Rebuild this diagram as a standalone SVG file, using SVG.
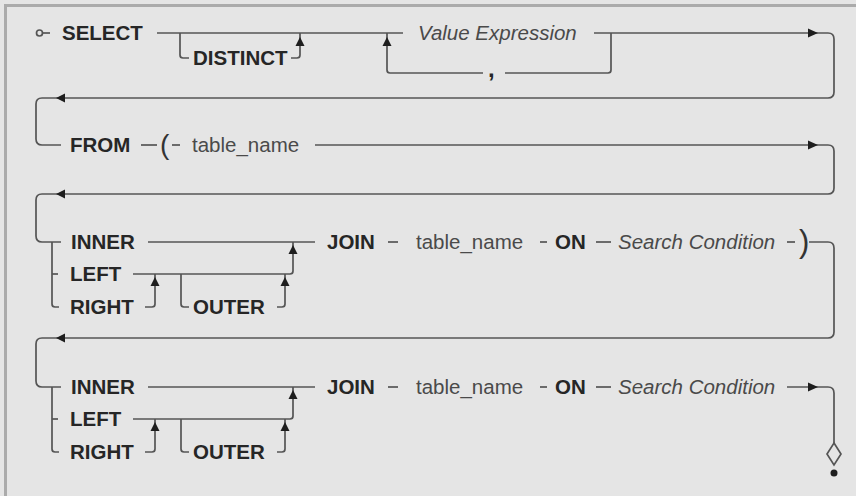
<svg xmlns="http://www.w3.org/2000/svg" width="856" height="496" viewBox="0 0 856 496">
  <style>
    .bg { fill: #e5e5e5; }
    .frame { fill: none; stroke: #ababab; stroke-width: 3; }
    .ln { fill: none; stroke: #555555; stroke-width: 1.7; stroke-linecap: butt; }
    .ah { fill: #1e1e1e; }
    .kw { font-family: "Liberation Sans", Arial, sans-serif; font-size: 20.5px; font-weight: bold; fill: #262626; }
    .id { font-family: "Liberation Sans", Arial, sans-serif; font-size: 20.5px; fill: #4a4a4a; }
    .it { font-family: "Liberation Sans", Arial, sans-serif; font-size: 20.5px; font-style: italic; fill: #4a4a4a; }
    .par { font-family: "Liberation Sans", Arial, sans-serif; font-size: 28px; fill: #333333; }
  </style>
  <defs>
    <path id="aup" d="M0 0 L4.5 9 L-4.5 9 Z"/>
    <path id="ar" d="M0 0 L-10 -4.5 L-10 4.5 Z"/>
    <path id="al" d="M0 0 L9 -4.5 L9 4.5 Z"/>
    <!-- join-type alternatives: INNER / LEFT / RIGHT [OUTER] -->
    <g id="jointype">
      <path class="ln" d="M52 242 V304 Q52 307 55 307 H59"/>
      <path class="ln" d="M52 274 H58"/>
      <path class="ln" d="M148 242 H315"/>
      <path class="ln" d="M133 274 H290 Q293 274 293 271 V242"/>
      <path class="ln" d="M145 307 H152 Q155 307 155 304 V274"/>
      <path class="ln" d="M181 274 V304 Q181 307 184 307 H189"/>
      <path class="ln" d="M277 307 H282 Q285 307 285 304 V274"/>
      <use href="#aup" class="ah" x="293" y="245"/>
      <use href="#aup" class="ah" x="155" y="277"/>
      <use href="#aup" class="ah" x="285" y="277"/>
      <path class="ln" d="M388 242 H398"/>
      <path class="ln" d="M540 242 H547"/>
      <path class="ln" d="M596 242 H611"/>
    </g>
  </defs>

  <rect class="bg" x="0" y="0" width="856" height="496"/>
  <path class="frame" d="M5.5 496 V5.5 H856"/>

  <g id="connectors">
    <!-- SELECT row -->
    <circle class="ln" cx="39.5" cy="33" r="3"/>
    <path class="ln" d="M42.5 33 H50"/>
    <path class="ln" d="M157 33 H403"/>
    <path class="ln" d="M180 33 V55 Q180 58 183 58 H189"/>
    <path class="ln" d="M291 58 H297 Q300 58 300 55 V33"/>
    <use href="#aup" class="ah" x="300" y="37"/>
    <path class="ln" d="M611 33 V70 Q611 73 608 73 H505"/>
    <path class="ln" d="M483 73 H390 Q387 73 387 70 V33"/>
    <use href="#aup" class="ah" x="387" y="37"/>
    <path class="ln" d="M594 33 H828 Q834 33 834 39 V92 Q834 98 828 98 H42 Q36 98 36 104 V139 Q36 145 42 145 H61"/>
    <use href="#ar" class="ah" x="818" y="33"/>
    <use href="#al" class="ah" x="56" y="98"/>

    <!-- FROM row -->
    <path class="ln" d="M141 145 H157"/>
    <path class="ln" d="M172 145 H180"/>
    <path class="ln" d="M315 145 H828 Q834 145 834 151 V188 Q834 194 828 194 H42 Q36 194 36 200 V236 Q36 242 42 242 H61"/>
    <use href="#ar" class="ah" x="818" y="145"/>
    <use href="#al" class="ah" x="56" y="194"/>

    <!-- first JOIN row -->
    <use href="#jointype"/>
    <path class="ln" d="M787 242 H795"/>
    <path class="ln" d="M809 242 H828 Q834 242 834 248 V332 Q834 338 828 338 H42 Q36 338 36 344 V381 Q36 387 42 387 H61"/>
    <use href="#al" class="ah" x="56" y="338"/>

    <!-- second JOIN row -->
    <use href="#jointype" y="145"/>
    <path class="ln" d="M787 387 H828 Q834 387 834 393 V443"/>
    <use href="#ar" class="ah" x="818" y="387"/>
    <path class="ln" d="M834 443 L841 454 L834 465 L827 454 Z"/>
    <circle class="ah" cx="834" cy="473" r="3.5"/>
  </g>

  <g id="select">
    <text class="kw" x="62" y="40">SELECT</text>
  </g>
  <g id="distinct">
    <text class="kw" x="193" y="65">DISTINCT</text>
  </g>
  <g id="value-expression">
    <text class="it" x="418" y="40">Value Expression</text>
  </g>
  <g id="comma">
    <text class="kw" x="488" y="77" style="font-size:24px">,</text>
  </g>

  <g id="from">
    <text class="kw" x="70" y="152">FROM</text>
  </g>
  <g id="open-paren">
    <text class="par" x="160" y="154">(</text>
  </g>
  <g id="from-table">
    <text class="id" x="192" y="152">table_name</text>
  </g>

  <g id="join1">
    <text class="kw" x="71" y="249">INNER</text>
    <text class="kw" x="70" y="281">LEFT</text>
    <text class="kw" x="70" y="314">RIGHT</text>
    <text class="kw" x="193" y="314">OUTER</text>
    <text class="kw" x="327" y="249">JOIN</text>
    <text class="id" x="416" y="249">table_name</text>
    <text class="kw" x="555" y="249">ON</text>
    <text class="it" x="618" y="249">Search Condition</text>
  </g>
  <g id="close-paren">
    <text class="par" x="799" y="252" style="font-size:31px">)</text>
  </g>

  <g id="join2">
    <text class="kw" x="71" y="394">INNER</text>
    <text class="kw" x="70" y="426">LEFT</text>
    <text class="kw" x="70" y="459">RIGHT</text>
    <text class="kw" x="193" y="459">OUTER</text>
    <text class="kw" x="327" y="394">JOIN</text>
    <text class="id" x="416" y="394">table_name</text>
    <text class="kw" x="555" y="394">ON</text>
    <text class="it" x="618" y="394">Search Condition</text>
  </g>
</svg>
